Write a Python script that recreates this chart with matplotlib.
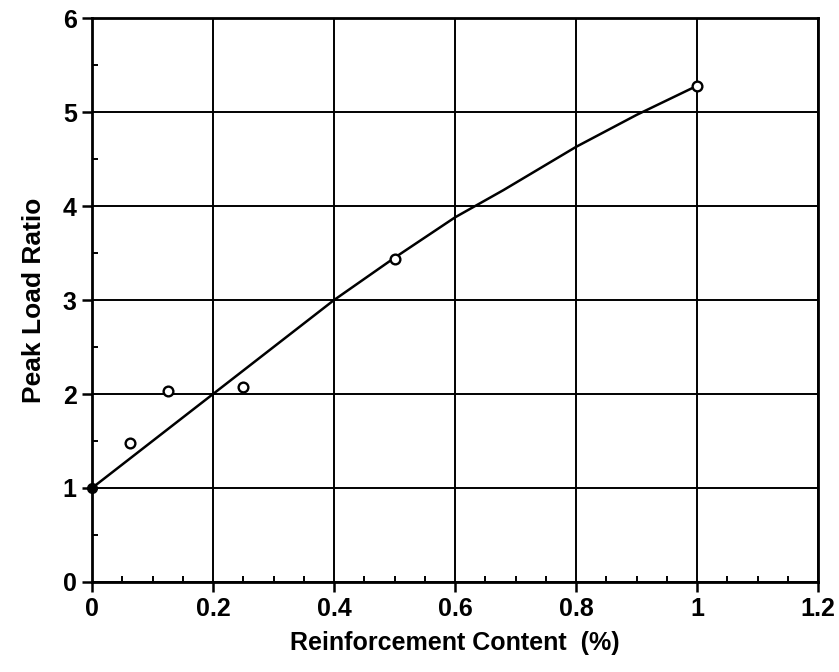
import matplotlib.pyplot as plt
from matplotlib.ticker import MultipleLocator

plt.rcParams['font.family'] = ['Liberation Sans', 'DejaVu Sans']
plt.rcParams['font.weight'] = 'bold'

# measured peak load ratios
content = [0.0625, 0.125, 0.25, 0.5, 1.0]
ratio = [1.48, 2.03, 2.07, 3.44, 5.28]

# unreinforced reference
base_x = [0]
base_y = [1]

# fitted trend line
fit_x = [0, 0.1, 0.2, 0.3, 0.4, 0.5, 0.6, 0.68, 0.8, 0.9, 1.0]
fit_y = [1.0, 1.5, 2.0, 2.5, 3.0, 3.45, 3.88, 4.17, 4.63, 4.97, 5.28]

fig = plt.figure(figsize=(8.39, 6.72), dpi=100)
ax = fig.add_axes([0.1097, 0.134, 0.8653, 0.839])

ax.plot(fit_x, fit_y, color='black', lw=1.8, zorder=3)
ax.plot(content, ratio, 'o', mfc='white', mec='black', mew=1.7, ms=7, zorder=4)
ax.plot(base_x, base_y, 'o', color='black', ms=7, zorder=4, clip_on=False)

ax.set_xlim(0, 1.2)
ax.set_ylim(0, 6)
ax.xaxis.set_major_locator(MultipleLocator(0.2))
ax.xaxis.set_minor_locator(MultipleLocator(0.05))
ax.yaxis.set_major_locator(MultipleLocator(1))
ax.yaxis.set_minor_locator(MultipleLocator(0.5))
ax.set_xticks([0, 0.2, 0.4, 0.6, 0.8, 1.0, 1.2])
ax.set_xticklabels(['0', '0.2', '0.4', '0.6', '0.8', '1', '1.2'])

ax.grid(True, which='major', color='black', lw=1.4)
ax.tick_params(which='major', direction='out', length=7, width=1.8, labelsize=18, pad=4)
ax.tick_params(which='minor', direction='in', length=4, width=1.4)
for s in ax.spines.values():
    s.set_linewidth(2)

ax.set_xlabel('Reinforcement Content  (%)', fontsize=18, fontweight='bold', labelpad=7)
ax.set_ylabel('Peak Load Ratio', fontsize=19, fontweight='bold', labelpad=12)

fig.savefig('out.png', dpi=100)
